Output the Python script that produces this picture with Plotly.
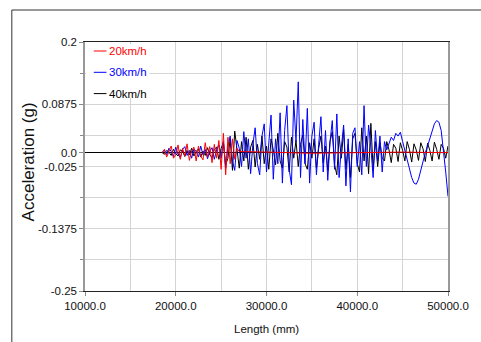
import plotly.graph_objects as go

# Sampling positions along the track (mm)
length_mm = list(range(18500, 50001, 250))
length_20 = list(range(18500, 27001, 250)) + [30000, 35000, 40000, 45000, 50000]

# Vertical acceleration (g) per running speed
acc_30 = [
    0.000, 0.005, -0.004, 0.008, 0.002, -0.007, 0.010, -0.003, -0.009, 0.006,
    0.011, -0.005, 0.004, -0.010, 0.007, 0.002, -0.008, 0.012, -0.004, 0.006,
    -0.011, 0.003, 0.009, -0.012, 0.005, 0.014,
    -0.010, 0.020, -0.028, 0.012, 0.030, -0.015, -0.032, 0.022, 0.008, -0.025,
    0.038, -0.010, 0.025, -0.038, 0.015, 0.045, -0.020, -0.040, 0.030, 0.052,
    -0.035, 0.010, 0.068, -0.048, 0.025, -0.020, 0.072, -0.055, 0.040, 0.085,
    -0.030, -0.058, 0.095, 0.020,
    0.128,
    -0.045, 0.060, -0.020, 0.080, -0.055, 0.030, 0.055, -0.040, 0.015, 0.065,
    -0.035, 0.040, -0.050, 0.020, 0.058,
    -0.030, 0.070, -0.045, 0.010, 0.050, -0.060, 0.025, -0.071, 0.035, 0.045,
    -0.025, 0.020, -0.040, 0.085,
    -0.025, 0.050, 0.010, -0.045, 0.040, -0.015, 0.030, -0.035, 0.020, 0.005,
    0.015, 0.028, 0.022, 0.035, 0.030, 0.037, 0.020, 0.005, -0.015, -0.030,
    -0.045, -0.055, -0.057, -0.048, -0.030, -0.012, 0.000, 0.012, 0.025, 0.040,
    0.052, 0.058, 0.055, 0.040, 0.005, -0.035, -0.079,
]
acc_40 = [
    0.000, -0.003, 0.004, 0.001, -0.005, 0.006, -0.002, -0.006, 0.005, 0.003,
    -0.007, 0.004, -0.004, 0.008, -0.006, 0.002, 0.007, -0.008, 0.003, -0.005,
    0.009, -0.004, -0.009, 0.006, 0.010, -0.012,
    0.008, 0.018, -0.022, -0.010, 0.025, -0.032, 0.039, 0.005, -0.028, 0.020,
    -0.015, 0.028, -0.030, 0.010, 0.022, -0.026, 0.015, -0.012, 0.030, -0.020,
    0.012, -0.030, 0.025, 0.005, -0.022, 0.035, -0.015, -0.028, 0.020, 0.010,
    -0.035, 0.028, -0.010, 0.022,
    -0.025, 0.015, 0.032, -0.020, -0.030, 0.018, -0.010, 0.025, -0.028, 0.008,
    0.030, -0.018, 0.012, -0.032, 0.020, 0.038, -0.022, -0.040, 0.030, -0.010,
    0.042, -0.030, 0.015, -0.045, 0.025, 0.035, -0.020, -0.035, 0.045, -0.015,
    0.030, -0.038, 0.053, -0.030, 0.020, -0.025,
    0.018, -0.010, -0.015, 0.020, 0.005, -0.018, 0.015, 0.008, -0.016, 0.018,
    0.004, -0.015, 0.020, 0.006, -0.017, 0.016, 0.005, -0.014, 0.018, 0.007,
    -0.016, 0.017, 0.004, -0.015, 0.019, 0.006, -0.012, 0.015, 0.008, -0.010,
    0.012,
]
acc_20 = [
    0.000, 0.006, -0.008, 0.004, 0.012, -0.010, -0.004, 0.014, -0.012, 0.008,
    -0.006, 0.016, -0.014, 0.003, 0.010, -0.015, 0.012, -0.006, -0.013, 0.018,
    -0.008, 0.011, -0.018, 0.015, -0.010, 0.022, -0.030, 0.035, -0.040, 0.028,
    -0.020, 0.025, -0.012, 0.008, 0.002,
    0.001, -0.001, 0.000, 0.001, 0.000,
]

series_names = ["20km/h", "30km/h", "40km/h"]
series_colors = ["#ff0000", "#0000ff", "#000000"]

x_ticks = [10000, 20000, 30000, 40000, 50000]
x_tick_text = ["10000.0", "20000.0", "30000.0", "40000.0", "50000.0"]
y_ticks = [0.2, 0.0875, 0.0, -0.025, -0.1375, -0.25]
y_tick_text = ["0.2", "0.0875", "0.0", "-0.025", "-0.1375", "-0.25"]

FONT = "Liberation Sans, Arial, sans-serif"
TEXT = "#111111"

fig = go.Figure()
fig.add_trace(go.Scatter(x=length_mm, y=acc_40, mode="lines",
                         line=dict(color=series_colors[2], width=1), name=series_names[2]))
fig.add_trace(go.Scatter(x=length_mm, y=acc_30, mode="lines",
                         line=dict(color=series_colors[1], width=1), name=series_names[1]))
fig.add_trace(go.Scatter(x=length_20, y=acc_20, mode="lines",
                         line=dict(color=series_colors[0], width=1), name=series_names[0]))

# plot-area geometry in pixels, used to place the key and frame
W, H = 481, 342
ML, MR, MT, MB = 85, 24, 42, 51
PW, PH = W - ML - MR, H - MT - MB


def px(xp):
    return (xp - ML) / PW


def py(yp):
    return (H - MB - yp) / PH


shapes = [
    # outer frame edges
    dict(type="line", xref="paper", yref="paper", x0=px(10), x1=px(495), y0=py(10), y1=py(10),
         line=dict(color="#333333", width=1)),
    dict(type="line", xref="paper", yref="paper", x0=px(10), x1=px(10), y0=py(10), y1=py(350),
         line=dict(color="#333333", width=1)),
    # key background
    dict(type="rect", xref="paper", yref="paper", x0=px(86), x1=px(151), y0=py(44), y1=py(98),
         fillcolor="white", line=dict(width=0), layer="above"),
]
annotations = []
for i, (name, color) in enumerate(zip(series_names, series_colors)):
    yk = 51 + i * 21.3
    shapes.append(dict(type="line", xref="paper", yref="paper", x0=px(94), x1=px(107),
                       y0=py(yk), y1=py(yk), line=dict(color=color, width=1), layer="above"))
    annotations.append(dict(xref="paper", yref="paper", x=px(108), y=py(yk), text=name,
                            showarrow=False, xanchor="left", yanchor="middle",
                            font=dict(family=FONT, size=11.5, color=color)))

annotations.append(dict(xref="paper", yref="paper", x=px(271), y=py(329), text="Length (mm)",
                        showarrow=False, xanchor="center", yanchor="middle",
                        font=dict(family=FONT, size=11.5, color=TEXT)))
annotations.append(dict(xref="paper", yref="paper", x=px(27), y=py(162), text="Acceleration (g)",
                        showarrow=False, textangle=-90, xanchor="center", yanchor="middle",
                        font=dict(family=FONT, size=17, color=TEXT)))

fig.update_layout(
    width=W, height=H,
    margin=dict(l=ML, r=MR, t=MT, b=MB),
    paper_bgcolor="white", plot_bgcolor="white",
    showlegend=False,
    shapes=shapes,
    annotations=annotations,
    font=dict(family=FONT, size=11.5, color=TEXT),
)
fig.update_xaxes(
    range=[10000, 50000], tickmode="array", tickvals=x_ticks, ticktext=x_tick_text,
    showgrid=True, gridcolor="#d4d4d4", gridwidth=1,
    showline=True, linecolor="#222222", linewidth=1, mirror=True,
    ticks="outside", ticklen=4, tickcolor="#888888", zeroline=False,
    minor=dict(tickvals=[15000, 25000, 35000, 45000], showgrid=True,
               gridcolor="#d4d4d4", gridwidth=1, ticks=""),
    tickfont=dict(family=FONT, size=11.5, color=TEXT),
)
fig.update_yaxes(
    range=[-0.25, 0.2], tickmode="array", tickvals=y_ticks, ticktext=y_tick_text,
    showgrid=True, gridcolor="#d4d4d4", gridwidth=1,
    showline=True, linecolor="#999999", linewidth=1.5, mirror=True,
    ticks="outside", ticklen=4, tickcolor="#888888",
    zeroline=True, zerolinecolor="#000000", zerolinewidth=1,
    minor=dict(tickvals=[0.14375, 0.03125, -0.08125, -0.19375], showgrid=True,
               gridcolor="#d4d4d4", gridwidth=1, ticks="outside", ticklen=3,
               tickcolor="#888888"),
    tickfont=dict(family=FONT, size=11.5, color=TEXT),
)

fig.write_html("out.html")
